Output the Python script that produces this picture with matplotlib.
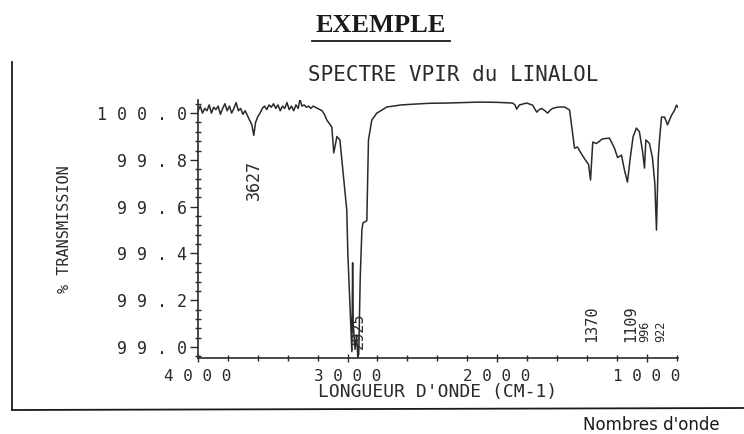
import matplotlib
matplotlib.use("Agg")
import matplotlib.pyplot as plt
from matplotlib.ticker import FixedLocator, MultipleLocator, FuncFormatter
from matplotlib.lines import Line2D

# ---- data ----
wavenumber = [4000, 3985, 3970, 3955, 3940, 3925, 3910, 3895, 3880, 3865, 3850, 3835,
              3820, 3805, 3790, 3775, 3760, 3745, 3730, 3715, 3700, 3685, 3670, 3655,
              3640, 3627, 3615, 3600, 3585, 3570, 3555, 3540, 3525, 3510, 3495, 3480,
              3465, 3450, 3435, 3420, 3405, 3390, 3375, 3360, 3345, 3330, 3318, 3305,
              3290, 3275, 3260, 3245, 3230, 3215, 3200, 3185, 3170, 3155, 3138, 3105,
              3092, 3071, 3051, 3031, 3005, 2998, 2985, 2971, 2966, 2962, 2950, 2940,
              2931, 2925, 2915, 2904, 2897, 2871, 2866, 2860, 2838, 2804, 2737, 2640,
              2564, 2450, 2337, 2230, 2116, 2000, 1896, 1880, 1869, 1850, 1802, 1762,
              1735, 1718, 1702, 1680, 1662, 1645, 1629, 1590, 1548, 1515, 1495, 1482,
              1462, 1440, 1410, 1388, 1375, 1360, 1335, 1295, 1248, 1215, 1194, 1168,
              1148, 1128, 1109, 1090, 1068, 1048, 1028, 1014, 1005, 996, 981, 961,
              945, 934, 922, 912, 900, 880, 860, 834, 815, 800, 785]
transmission = [100.01, 100.03, 100.00, 100.02, 100.01, 100.035, 100.00, 100.025, 100.015, 100.03, 99.995, 100.02,
                100.04, 100.01, 100.03, 100.00, 100.02, 100.045, 100.01, 100.02, 99.995, 100.01, 99.99, 99.97,
                99.95, 99.905, 99.96, 99.985, 100.00, 100.02, 100.03, 100.015, 100.035, 100.025, 100.04, 100.02,
                100.035, 100.01, 100.03, 100.02, 100.045, 100.015, 100.03, 100.01, 100.035, 100.02, 100.06, 100.03,
                100.035, 100.025, 100.03, 100.02, 100.03, 100.025, 100.02, 100.015, 100.01, 99.995, 99.97, 99.94,
                99.83, 99.90, 99.885, 99.756, 99.585, 99.40, 99.20, 98.98, 99.36, 99.10, 98.99, 99.05,
                98.957, 98.97, 99.30, 99.50, 99.53, 99.54, 99.70, 99.885, 99.97, 100.00, 100.026, 100.035,
                100.038, 100.042, 100.043, 100.045, 100.047, 100.046, 100.043, 100.035, 100.017, 100.035, 100.043, 100.034,
                100.004, 100.015, 100.02, 100.01, 100.00, 100.012, 100.02, 100.026, 100.026, 100.013, 99.915, 99.85,
                99.855, 99.83, 99.80, 99.78, 99.714, 99.876, 99.87, 99.89, 99.893, 99.85, 99.81, 99.82,
                99.756, 99.705, 99.81, 99.90, 99.936, 99.92, 99.84, 99.765, 99.885, 99.88, 99.87, 99.81,
                99.70, 99.50, 99.81, 99.90, 99.983, 99.983, 99.95, 99.99, 100.01, 100.034, 100.02]

peak_labels = ["3627", "2925", "1370", "1109", "996", "922"]
peak_positions = [3627, 2925, 1370, 1109, 996, 922]

y_ticks = [99.0, 99.2, 99.4, 99.6, 99.8, 100.0]
x_ticks = [4000, 3000, 2000, 1000]

# ---- figure ----
W, H = 744, 434
fig = plt.figure(figsize=(W / 100, H / 100), dpi=100)
ink = "#2a2a2a"
mono = "DejaVu Sans Mono"

ax = fig.add_axes([198 / W, 1 - 358 / H, (678 - 198) / W, (358 - 100) / H])
ax.plot(wavenumber, transmission, color=ink, lw=1.1)
ax.set_xlim(4000, 790)
ax.set_ylim(98.953, 100.056)

for s in ("top", "right"):
    ax.spines[s].set_visible(False)
for s in ("left", "bottom"):
    ax.spines[s].set_color(ink)
    ax.spines[s].set_linewidth(1.2)

def spaced(fmt):
    return FuncFormatter(lambda v, p: " ".join(fmt.format(v)))

ax.yaxis.set_major_locator(FixedLocator(y_ticks))
ax.yaxis.set_minor_locator(MultipleLocator(0.04))
ax.yaxis.set_major_formatter(spaced("{:.1f}"))
ax.xaxis.set_major_locator(FixedLocator(x_ticks))
ax.xaxis.set_minor_locator(MultipleLocator(200))
ax.xaxis.set_major_formatter(spaced("{:.0f}"))

ax.tick_params(axis="y", which="major", direction="out", length=6, width=1, color=ink,
               labelsize=12, labelcolor=ink, pad=2)
ax.tick_params(axis="y", which="minor", direction="inout", length=5, width=1, color=ink)
ax.tick_params(axis="x", which="major", direction="inout", length=6, width=1, color=ink,
               labelsize=11.5, labelcolor=ink, pad=5)
ax.tick_params(axis="x", which="minor", direction="inout", length=5, width=1, color=ink)
for lab in ax.get_xticklabels() + ax.get_yticklabels():
    lab.set_family(mono)

ax.set_ylabel("% TRANSMISSION", family=mono, fontsize=11, color=ink, labelpad=18)
ax.set_xlabel("LONGUEUR D'ONDE (CM-1)", family=mono, fontsize=13, color=ink, labelpad=-1)

# peak annotations
ax.text(3627, 99.80, peak_labels[0], rotation=90, ha="center", va="top",
        family=mono, fontsize=12, color=ink)
ax.text(peak_positions[1], 98.99, peak_labels[1], rotation=90, ha="center", va="bottom",
        family=mono, fontsize=11, color=ink)
for lbl, pos in zip(peak_labels[2:4], peak_positions[2:4]):
    ax.text(pos, 99.02, lbl, rotation=90, ha="center", va="bottom",
            family=mono, fontsize=11, color=ink)
for lbl, pos, dx in zip(peak_labels[4:], peak_positions[4:], (-1.5, 1.5)):
    ax.annotate(lbl, (pos, 99.02), xytext=(dx, 0), textcoords="offset points",
                rotation=90, ha="center", va="bottom",
                family=mono, fontsize=8.5, color=ink)

# page texts
fig.text(381 / W, 1 - 26 / H, "EXEMPLE", ha="center", va="center",
         family="Liberation Serif", fontweight="bold", fontsize=19, color="#1a1a1a")
fig.add_artist(Line2D([312 / W, 450 / W], [1 - 41 / H, 1 - 41 / H], color="#1a1a1a", lw=1.3))
fig.text(453 / W, 1 - 75 / H, "SPECTRE VPIR du LINALOL", ha="center", va="center",
         family=mono, fontsize=15, color=ink)
fig.text(720 / W, 1 - 425 / H, "Nombres d'onde", ha="right", va="center",
         family="DejaVu Sans", fontsize=12, color="#1a1a1a")

# frame lines of the page
fig.add_artist(Line2D([12 / W, 12 / W], [1 - 62 / H, 1 - 410 / H], color="#1a1a1a", lw=1.3))
fig.add_artist(Line2D([12 / W, 744 / W], [1 - 410 / H, 1 - 408 / H], color="#1a1a1a", lw=1.3))

fig.savefig("out.png", dpi=100, facecolor="white")
